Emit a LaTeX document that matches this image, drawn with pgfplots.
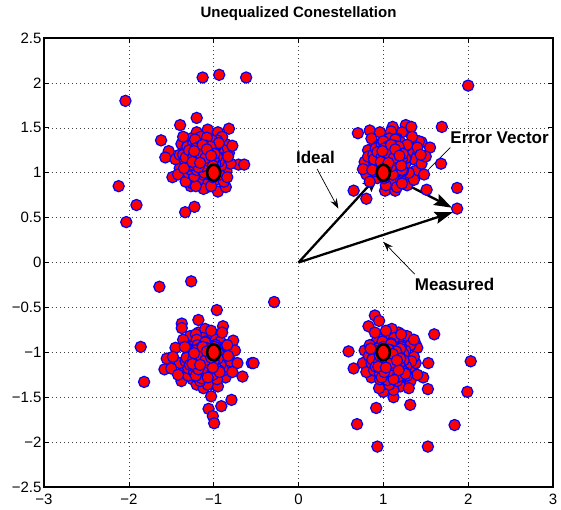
\documentclass[border=0pt]{standalone}
\usepackage{fontspec}
\setmainfont{Liberation Sans}
\usepackage{pgfplots}
\pgfplotsset{compat=1.18}
\usetikzlibrary{arrows.meta}
\begin{document}
\begin{tikzpicture}
\begin{axis}[
  name=main,
  scale only axis,
  width=509pt, height=449pt,
  xmin=-3, xmax=3, ymin=-2.5, ymax=2.5,
  xtick={-3,-2,-1,0,1,2,3},
  xticklabels={−3,−2,−1,0,1,2,3},
  ytick={-2.5,-2,-1.5,-1,-0.5,0,0.5,1,1.5,2,2.5},
  yticklabels={−2.5,−2,−1.5,−1,−0.5,0,0.5,1,1.5,2,2.5},
  tick align=inside,
  major tick length=5pt,
  tick style={black, line width=0.6pt},
  axis line style={black, line width=1.2pt},
  grid=major,
  major grid style={black!75, line width=0.5pt, dash pattern=on 0.8pt off 3.2pt},
  ticklabel style={font=\fontsize{15}{17}\selectfont},
  xticklabel style={yshift=-3.5pt},
  yticklabel style={xshift=1pt},
  title={Unequalized Conestellation},
  title style={font=\bfseries\fontsize{15}{17}\selectfont, at={(0.5,1)}, anchor=base, yshift=14.5pt},
  clip=false,
]
% top-left
\addplot[only marks, mark=*, mark size=5.6pt, mark options={fill=red, draw=blue, line width=1.2pt}] coordinates {
(-1.13,2.06) (-0.935,2.09) (-0.617,2.06) (-2.04,1.80) (-1.20,1.61) (-1.395,1.53) (-0.82,1.49) (-1.62,1.36) (-1.53,1.24) (-1.57,1.17) (-1.486,0.95) (-0.707,1.09) (-0.64,1.09) (-1.336,0.56) (-1.226,0.62) (-1.27,0.85) (-1.10,0.83) (-0.95,0.79) (-0.857,0.84) (-2.12,0.85) (-1.91,0.64) (-2.03,0.45)
(-1.05,1.10) (-1.12,1.18) (-0.95,1.05) (-1.20,1.02) (-1.00,1.25) (-1.15,0.95) (-0.90,1.15) (-1.25,1.20) (-1.08,1.30) (-0.98,0.92) (-1.30,1.08) (-0.85,1.02) (-1.18,1.35) (-1.02,1.40) (-0.92,1.30) (-1.35,1.25) (-1.10,0.88) (-1.28,0.95) (-0.88,0.90) (-1.22,1.12) (-1.05,1.20) (-1.14,1.06) (-0.97,1.18) (-1.32,1.15) (-0.82,1.22) (-1.40,1.05) (-1.06,0.98) (-1.17,1.24) (-0.93,0.98) (-1.25,0.88) (-1.00,1.08) (-1.10,1.42) (-0.86,1.32) (-1.38,1.32) (-1.20,1.45) (-0.95,1.45) (-1.42,0.98) (-1.12,0.82) (-0.80,1.10) (-1.03,0.85) (-1.27,1.38) (-0.90,1.40) (-1.15,1.14) (-1.08,1.05) (-0.99,1.22) (-1.22,1.28) (-1.33,0.90) (-0.84,0.95) (-1.45,1.15) (-1.18,0.92) (-0.96,1.36) (-1.04,1.33) (-1.30,1.00) (-0.88,1.25) (-1.13,1.28) (-1.24,1.05) (-1.36,1.40) (-0.78,1.30) (-1.07,1.48) (-0.91,1.08) (-1.19,1.00) (-1.01,0.95) (-1.26,1.18) (-1.09,1.16) (-0.94,1.12) (-1.16,1.38) (-1.40,1.20) (-0.83,1.18) (-1.21,0.85) (-1.05,1.27)
(-1.15,1.17) (-1.10,1.22) (-1.20,1.12) (-1.05,1.15) (-1.25,1.25) (-1.12,1.05) (-1.18,1.30) (-1.08,1.10) (-1.22,1.18) (-1.00,1.20) (-1.28,1.10) (-1.14,1.26) (-1.06,1.03) (-1.24,1.02) (-1.02,1.32) (-1.30,1.22) (-1.16,1.08) (-1.11,1.34) (-0.98,1.10) (-1.34,1.14) (-1.19,1.20) (-1.09,1.18) (-1.26,1.32) (-1.04,1.26) (-1.13,0.98) (-1.21,1.06) (-0.95,1.24) (-1.32,1.28) (-1.17,1.38) (-1.07,1.36) (-1.23,0.96) (-1.01,1.02) (-1.29,1.04) (-1.12,1.14) (-1.18,1.24) (-1.03,1.12) (-1.27,1.16) (-1.15,1.02) (-0.97,1.30) (-1.36,1.20) (-1.09,1.28) (-1.20,1.34) (-1.05,1.08) (-1.14,1.20) (-1.24,1.12)
(-1.13,1.18) (-1.08,1.14) (-1.18,1.22) (-1.03,1.19) (-1.23,1.15) (-1.11,1.27) (-1.16,1.09) (-1.06,1.24) (-1.21,1.26) (-1.01,1.13) (-1.26,1.20) (-1.12,1.05) (-1.17,1.31) (-1.04,1.07) (-1.28,1.08) (-1.09,1.33) (-0.99,1.27) (-1.31,1.29) (-1.14,1.12) (-1.20,1.03) (-1.07,1.17) (-1.24,1.33) (-1.02,1.36) (-1.15,1.40) (-0.96,1.18) (-1.33,1.17) (-1.19,1.14) (-1.10,1.10) (-1.25,1.09) (-1.05,1.29) (-1.16,1.23) (-1.00,1.05) (-1.29,1.25) (-1.11,1.00) (-1.22,1.37) (-1.08,1.39) (-0.94,1.33) (-1.35,1.05) (-1.18,1.16) (-1.04,1.22)
(-1.12,1.18) (-1.08,1.21) (-1.16,1.15) (-1.05,1.17) (-1.19,1.22) (-1.10,1.12) (-1.14,1.26) (-1.07,1.09) (-1.20,1.10) (-1.02,1.24) (-1.17,1.29) (-1.09,1.30) (-1.24,1.18) (-1.00,1.15) (-1.13,1.07) (-1.21,1.27) (-1.04,1.29) (-1.11,1.24) (-1.15,1.20) (-1.06,1.13) (-1.18,1.06) (-1.01,1.08) (-1.23,1.24) (-1.10,1.16) (-1.13,1.31) (-0.99,1.21) (-1.25,1.12) (-1.08,1.26) (-1.16,1.11) (-1.03,1.19)
};
% top-right
\addplot[only marks, mark=*, mark size=5.6pt, mark options={fill=red, draw=blue, line width=1.2pt}] coordinates {
(2.0,1.97) (0.70,1.44) (0.84,1.47) (1.11,1.51) (1.265,1.53) (1.33,1.51) (1.69,1.51) (1.45,1.34) (1.55,1.28) (1.68,1.10) (0.65,0.80) (0.80,0.71) (1.51,0.81) (1.87,0.83) (1.87,0.60) (1.02,0.80) (1.14,0.80)
(1.05,1.10) (1.15,1.18) (0.95,1.05) (1.22,1.02) (1.00,1.25) (1.12,0.95) (1.30,1.15) (0.88,1.20) (1.08,1.30) (1.25,0.92) (0.85,1.08) (1.38,1.02) (1.18,1.35) (1.02,1.40) (1.32,1.30) (0.90,1.32) (1.10,0.88) (1.40,1.22) (0.80,0.98) (1.20,1.12) (1.06,1.20) (1.14,1.06) (0.97,1.16) (1.35,1.15) (0.82,1.25) (1.45,1.10) (1.04,0.98) (1.26,1.24) (0.93,0.94) (1.28,0.86) (1.00,1.08) (1.12,1.42) (0.86,1.38) (1.42,1.35) (1.22,1.45) (0.96,1.45) (1.48,0.98) (1.16,0.84) (0.78,1.12) (1.03,0.86) (1.34,1.40) (0.90,1.02) (1.17,1.14) (1.08,1.05) (0.99,1.22) (1.24,1.28) (1.36,0.92) (0.84,0.90) (1.50,1.18) (1.20,0.94) (0.94,1.30) (1.05,1.34) (1.30,1.00) (0.88,1.14) (1.13,1.27) (1.24,1.06) (1.40,1.28) (0.76,1.04) (1.09,1.46) (0.92,1.08) (1.19,1.00) (1.01,0.94) (1.27,1.18) (1.11,1.16) (0.96,1.12) (1.16,1.38) (1.44,1.20) (0.82,1.18) (1.22,0.88) (1.06,1.26)
(1.09,1.16) (1.14,1.22) (1.04,1.10) (1.19,1.13) (0.99,1.25) (1.12,1.04) (1.06,1.30) (1.16,1.08) (1.02,1.18) (1.24,1.20) (0.96,1.10) (1.10,1.26) (1.18,1.02) (1.00,1.02) (1.22,1.32) (0.94,1.22) (1.08,1.08) (1.13,1.34) (1.26,1.10) (0.90,1.14) (1.05,1.20) (1.15,1.18) (0.98,1.32) (1.20,1.26) (1.11,0.98) (1.03,1.06) (1.29,1.24) (0.92,1.28) (1.07,1.38) (1.17,1.36) (1.01,0.96) (1.23,1.02) (0.95,1.04) (1.12,1.14) (1.06,1.24) (1.21,1.12) (0.97,1.16) (1.09,1.02) (1.27,1.30) (0.88,1.20) (1.15,1.28) (1.04,1.34) (1.19,1.08) (1.10,1.20) (1.00,1.12)
(1.09,1.16) (1.14,1.12) (1.04,1.20) (1.19,1.17) (0.99,1.13) (1.11,1.25) (1.06,1.07) (1.16,1.22) (1.01,1.24) (1.21,1.11) (0.96,1.18) (1.10,1.03) (1.05,1.29) (1.18,1.05) (0.94,1.06) (1.13,1.31) (1.23,1.25) (0.91,1.27) (1.08,1.10) (1.02,1.01) (1.15,1.15) (0.98,1.31) (1.20,1.34) (1.07,1.38) (1.26,1.16) (0.89,1.15) (1.03,1.12) (1.12,1.08) (0.97,1.07) (1.17,1.27) (1.06,1.21) (1.22,1.03) (0.93,1.23) (1.11,0.98) (1.00,1.35) (1.14,1.37) (1.28,1.31) (0.87,1.03) (1.04,1.14) (1.18,1.20)
(1.10,1.18) (1.14,1.21) (1.06,1.15) (1.17,1.17) (1.03,1.22) (1.12,1.12) (1.08,1.26) (1.15,1.09) (1.02,1.10) (1.20,1.24) (1.05,1.29) (1.13,1.30) (0.98,1.18) (1.22,1.15) (1.09,1.07) (1.01,1.27) (1.18,1.29) (1.11,1.24) (1.07,1.20) (1.16,1.13) (1.04,1.06) (1.21,1.08) (0.99,1.24) (1.12,1.16) (1.09,1.31) (1.23,1.21) (0.97,1.12) (1.14,1.26) (1.06,1.11) (1.19,1.19)
};
% bottom-left
\addplot[only marks, mark=*, mark size=5.6pt, mark options={fill=red, draw=blue, line width=1.2pt}] coordinates {
(-1.64,-0.27) (-1.265,-0.21) (-0.287,-0.44) (-0.963,-0.53) (-1.18,-0.64) (-1.376,-0.68) (-1.376,-0.73) (-0.89,-0.71) (-1.86,-0.94) (-0.77,-0.87) (-1.553,-1.07) (-1.58,-1.19) (-0.55,-1.12) (-0.53,-1.12) (-0.66,-1.27) (-1.82,-1.33) (-1.03,-1.49) (-0.79,-1.53) (-0.91,-1.60) (-1.06,-1.63) (-1.01,-1.71) (-0.994,-1.79)
(-1.05,-1.10) (-1.12,-0.98) (-0.95,-1.05) (-1.20,-1.12) (-1.00,-0.85) (-1.15,-1.25) (-0.90,-1.15) (-1.25,-0.90) (-1.08,-0.80) (-0.98,-1.28) (-1.30,-1.05) (-0.85,-1.02) (-1.18,-0.78) (-1.02,-1.35) (-0.92,-0.88) (-1.35,-1.20) (-1.10,-1.18) (-1.28,-0.82) (-0.80,-1.10) (-1.22,-1.00) (-1.05,-0.95) (-1.14,-1.06) (-0.97,-1.18) (-1.40,-1.12) (-0.75,-0.98) (-1.45,-0.95) (-1.06,-1.22) (-1.17,-0.88) (-0.93,-0.95) (-1.25,-1.30) (-1.00,-1.08) (-1.10,-0.74) (-0.86,-1.28) (-1.38,-1.32) (-1.20,-1.36) (-0.95,-1.38) (-1.48,-1.05) (-1.12,-1.40) (-0.72,-1.12) (-1.03,-0.76) (-1.32,-0.92) (-0.90,-0.78) (-1.15,-1.14) (-1.08,-1.02) (-0.99,-0.92) (-1.22,-1.22) (-1.33,-1.10) (-0.84,-0.92) (-1.50,-1.18) (-1.18,-1.02) (-0.96,-1.30) (-1.04,-1.26) (-1.30,-1.26) (-0.88,-1.20) (-1.13,-0.84) (-1.24,-1.14) (-1.36,-0.86) (-0.78,-1.22) (-1.07,-1.36) (-0.91,-1.08) (-1.19,-1.28) (-1.01,-1.16) (-1.26,-0.98) (-1.09,-0.90) (-0.94,-1.00) (-1.16,-1.32) (-1.42,-1.25) (-0.83,-1.04) (-1.21,-0.80) (-1.05,-1.20)
(-1.12,-1.07) (-1.07,-1.12) (-1.17,-1.02) (-1.02,-1.05) (-1.22,-1.15) (-1.09,-0.97) (-1.15,-1.20) (-1.05,-1.00) (-1.19,-1.10) (-0.97,-1.12) (-1.25,-1.00) (-1.11,-1.18) (-1.03,-0.93) (-1.21,-0.92) (-0.99,-1.22) (-1.27,-1.12) (-1.13,-0.98) (-1.08,-1.24) (-0.95,-1.00) (-1.31,-1.04) (-1.16,-1.10) (-1.06,-1.08) (-1.23,-1.22) (-1.01,-1.16) (-1.10,-0.88) (-1.18,-0.96) (-0.92,-1.14) (-1.29,-1.18) (-1.14,-1.28) (-1.04,-1.26) (-1.20,-0.86) (-0.98,-0.92) (-1.26,-0.94) (-1.09,-1.04) (-1.15,-1.14) (-1.00,-1.02) (-1.24,-1.06) (-1.12,-0.92) (-0.94,-1.20) (-1.33,-1.10) (-1.06,-1.18) (-1.17,-1.24) (-1.02,-0.98) (-1.11,-1.10) (-1.21,-1.02)
(-1.12,-1.07) (-1.07,-1.03) (-1.17,-1.11) (-1.02,-1.08) (-1.22,-1.04) (-1.10,-1.16) (-1.15,-0.98) (-1.05,-1.13) (-1.20,-1.15) (-1.00,-1.02) (-1.25,-1.09) (-1.11,-0.94) (-1.16,-1.20) (-1.03,-0.96) (-1.27,-0.97) (-1.08,-1.22) (-0.98,-1.16) (-1.30,-1.18) (-1.13,-1.01) (-1.19,-0.92) (-1.06,-1.06) (-1.23,-1.22) (-1.01,-1.25) (-1.14,-1.29) (-0.95,-1.07) (-1.32,-1.06) (-1.18,-1.03) (-1.09,-0.99) (-1.24,-0.98) (-1.04,-1.18) (-1.15,-1.12) (-0.99,-0.94) (-1.28,-1.14) (-1.10,-0.89) (-1.21,-1.26) (-1.07,-1.28) (-0.93,-1.22) (-1.34,-0.94) (-1.17,-1.05) (-1.03,-1.11)
(-1.12,-1.07) (-1.08,-1.04) (-1.16,-1.10) (-1.05,-1.08) (-1.19,-1.03) (-1.10,-1.13) (-1.14,-0.99) (-1.07,-1.16) (-1.20,-1.15) (-1.02,-1.01) (-1.17,-0.96) (-1.09,-0.95) (-1.24,-1.07) (-1.00,-1.10) (-1.13,-1.18) (-1.21,-0.98) (-1.04,-0.96) (-1.11,-1.01) (-1.15,-1.05) (-1.06,-1.12) (-1.18,-1.19) (-1.01,-1.17) (-1.23,-1.01) (-1.10,-1.09) (-1.13,-0.94) (-0.99,-1.04) (-1.25,-1.13) (-1.08,-0.99) (-1.16,-1.14) (-1.03,-1.06)
};
% bottom-right
\addplot[only marks, mark=*, mark size=5.6pt, mark options={fill=red, draw=blue, line width=1.2pt}] coordinates {
(0.90,-0.59) (0.95,-0.65) (0.825,-0.71) (1.60,-0.80) (1.376,-0.90) (0.59,-0.99) (2.03,-1.10) (1.53,-1.12) (0.65,-1.18) (1.47,-1.28) (1.525,-1.41) (1.99,-1.44) (1.0,-1.44) (1.12,-1.50) (0.916,-1.62) (1.317,-1.585) (0.69,-1.80) (1.84,-1.81) (0.93,-2.05) (1.525,-2.05)
(1.05,-1.10) (1.12,-0.98) (0.95,-1.05) (1.20,-1.12) (1.00,-0.85) (1.15,-1.25) (0.90,-1.15) (1.25,-0.90) (1.08,-0.80) (0.98,-1.28) (1.30,-1.05) (0.85,-1.02) (1.18,-0.78) (1.02,-1.35) (0.92,-0.88) (1.35,-1.20) (1.10,-1.18) (1.28,-0.82) (0.80,-1.10) (1.22,-1.00) (1.05,-0.95) (1.14,-1.06) (0.97,-1.18) (1.38,-1.12) (0.78,-0.98) (1.40,-0.95) (1.06,-1.22) (1.17,-0.88) (0.93,-0.95) (1.25,-1.30) (1.00,-1.08) (1.10,-0.74) (0.86,-1.28) (1.32,-1.32) (1.20,-1.38) (0.95,-1.40) (1.36,-1.05) (1.12,-1.42) (0.76,-1.12) (1.03,-0.76) (1.32,-0.92) (0.90,-0.78) (1.15,-1.14) (1.08,-1.02) (0.99,-0.92) (1.22,-1.22) (1.33,-1.10) (0.84,-0.92) (1.40,-1.25) (1.18,-1.02) (0.96,-1.30) (1.04,-1.26) (1.28,-1.26) (0.88,-1.20) (1.13,-0.84) (1.24,-1.14) (1.36,-0.86) (0.80,-1.22) (1.07,-1.36) (0.91,-1.08) (1.19,-1.28) (1.01,-1.16) (1.26,-0.98) (1.09,-0.90) (0.94,-1.00) (1.16,-1.32) (1.30,-1.40) (0.83,-1.04) (1.21,-0.80) (1.05,-1.20)
(1.07,-1.09) (1.12,-1.14) (1.02,-1.04) (1.17,-1.07) (0.97,-1.17) (1.10,-0.99) (1.04,-1.22) (1.14,-1.02) (1.00,-1.12) (1.22,-1.14) (0.94,-1.02) (1.08,-1.20) (1.16,-0.95) (0.98,-0.94) (1.20,-1.24) (0.92,-1.14) (1.06,-1.00) (1.11,-1.26) (1.24,-1.02) (0.88,-1.06) (1.03,-1.12) (1.13,-1.10) (0.96,-1.24) (1.18,-1.18) (1.09,-0.90) (1.01,-0.98) (1.27,-1.16) (0.90,-1.20) (1.05,-1.30) (1.15,-1.28) (0.99,-0.88) (1.21,-0.94) (0.93,-0.96) (1.10,-1.06) (1.04,-1.16) (1.19,-1.04) (0.95,-1.08) (1.07,-0.94) (1.25,-1.22) (0.86,-1.12) (1.13,-1.20) (1.02,-1.26) (1.17,-1.00) (1.08,-1.12) (0.98,-1.04)
(1.07,-1.09) (1.12,-1.05) (1.02,-1.13) (1.17,-1.10) (0.97,-1.06) (1.09,-1.18) (1.04,-1.00) (1.14,-1.15) (0.99,-1.17) (1.19,-1.04) (0.94,-1.11) (1.08,-0.96) (1.03,-1.22) (1.16,-0.98) (0.92,-0.99) (1.11,-1.24) (1.21,-1.18) (0.89,-1.20) (1.06,-1.03) (1.00,-0.94) (1.13,-1.08) (0.96,-1.24) (1.18,-1.27) (1.05,-1.31) (1.24,-1.09) (0.87,-1.08) (1.01,-1.05) (1.10,-1.01) (0.95,-1.00) (1.15,-1.20) (1.04,-1.14) (1.20,-0.96) (0.91,-1.16) (1.09,-0.91) (0.98,-1.28) (1.12,-1.30) (1.26,-1.24) (0.85,-0.96) (1.02,-1.07) (1.16,-1.13)
(1.07,-1.10) (1.11,-1.07) (1.03,-1.13) (1.14,-1.11) (1.00,-1.06) (1.09,-1.16) (1.05,-1.02) (1.12,-1.19) (0.99,-1.18) (1.17,-1.04) (1.02,-0.99) (1.10,-0.98) (0.95,-1.10) (1.19,-1.13) (1.06,-1.21) (0.98,-1.01) (1.15,-0.99) (1.08,-1.04) (1.04,-1.08) (1.13,-1.15) (1.01,-1.22) (1.18,-1.20) (0.96,-1.04) (1.09,-1.12) (1.06,-0.97) (1.20,-1.07) (0.94,-1.16) (1.11,-1.02) (1.03,-1.17) (1.16,-1.09)
};
% vectors
\addplot[black, line width=2.3pt, -{Stealth[length=18pt,width=12pt,inset=3pt]}] coordinates {(0,0) (0.95,0.98)};
\addplot[black, line width=2.3pt, -{Stealth[length=18pt,width=12pt,inset=3pt]}] coordinates {(0,0) (1.82,0.56)};
\addplot[black, line width=2.3pt, -{Stealth[length=18pt,width=12pt,inset=3pt]}] coordinates {(1.0,1.0) (1.81,0.61)};
% ideal points
\addplot[only marks, mark=*, mark size=8pt, mark options={fill=red, draw=black, line width=2.6pt, xscale=0.82}] coordinates {(-1,1) (1,1) (-1,-1) (1,-1)};
% annotation arrows
\addplot[black, line width=0.7pt, -{Stealth[length=10pt,width=7pt]}] coordinates {(0.22,1.04) (0.47,0.60)};
\addplot[black, line width=0.7pt, -{Stealth[length=10pt,width=7pt]}] coordinates {(1.79,1.28) (1.40,0.91)};
\addplot[black, line width=0.7pt, -{Stealth[length=10pt,width=7pt]}] coordinates {(1.37,-0.13) (1.00,0.23)};
\node[font=\bfseries\fontsize{17}{19}\selectfont] at (axis cs:0.2,1.17) {Ideal};
\node[font=\bfseries\fontsize{17}{19}\selectfont] at (axis cs:2.37,1.39) {Error Vector};
\node[font=\bfseries\fontsize{17}{19}\selectfont] at (axis cs:1.84,-0.245) {Measured};
\end{axis}
\pgfresetboundingbox
\useasboundingbox (main.south west) ++(-44pt,-23pt) rectangle ([shift={(8pt,38pt)}]main.north east);
\end{tikzpicture}
\end{document}
